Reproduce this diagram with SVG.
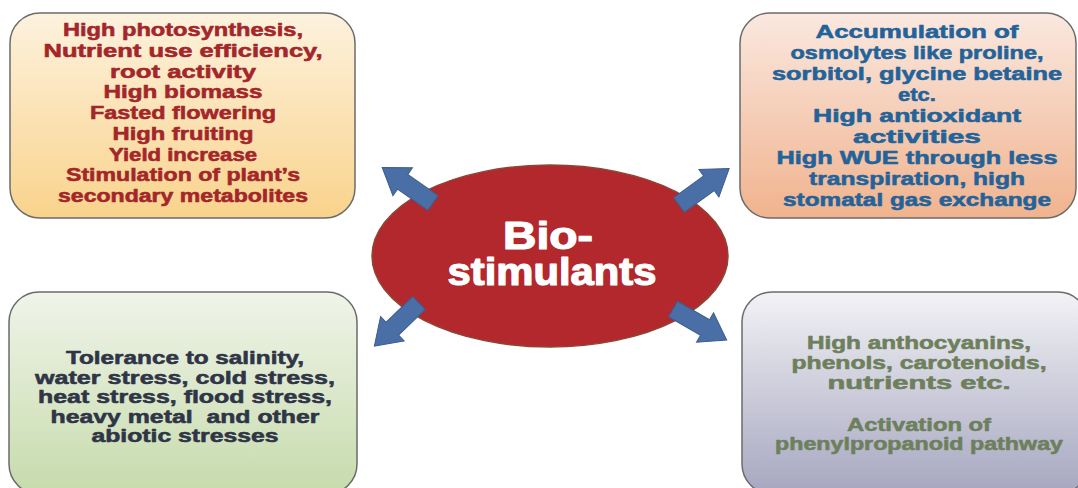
<svg xmlns="http://www.w3.org/2000/svg" width="1078" height="488" viewBox="0 0 1078 488">
  <defs>
    <linearGradient id="gOrange" x1="0" y1="0" x2="0" y2="1">
      <stop offset="0" stop-color="#fdf2de"/>
      <stop offset="1" stop-color="#f9d38c"/>
    </linearGradient>
    <linearGradient id="gPeach" x1="0" y1="0" x2="0" y2="1">
      <stop offset="0" stop-color="#fae8df"/>
      <stop offset="1" stop-color="#f0b38e"/>
    </linearGradient>
    <linearGradient id="gGreen" x1="0" y1="0" x2="0" y2="1">
      <stop offset="0" stop-color="#f0f4ea"/>
      <stop offset="1" stop-color="#c6dbab"/>
    </linearGradient>
    <linearGradient id="gLilac" x1="0" y1="0" x2="0" y2="1">
      <stop offset="0" stop-color="#f2f2f6"/>
      <stop offset="1" stop-color="#a6a6c0"/>
    </linearGradient>
    <!-- block arrow pointing along +x, tail at origin -->
    <polygon id="blockArrow" points="0,-9 37,-9 37,-17 62,0 37,17 37,9 0,9"/>
  </defs>
  <style>
    .box { stroke: #6b6b6b; stroke-width: 1.5; }
    .lbl { font-family: "Liberation Sans", Arial, sans-serif; font-weight: bold; font-size: 18px; text-anchor: middle; stroke-width: 0.55; stroke-linejoin: round; paint-order: stroke; }
    .red { fill: #a3262a; stroke: #a3262a; }
    .blue { fill: #23639a; stroke: #23639a; }
    .slate { fill: #2f3546; stroke: #2f3546; }
    .olive { fill: #6e7f5c; stroke: #6e7f5c; }
    .hub { fill: #b3282d; stroke: #8c4636; stroke-width: 1.5; }
    .hubtxt { font-family: "Liberation Sans", Arial, sans-serif; font-weight: bold; font-size: 38px; fill: #ffffff; stroke: #ffffff; stroke-width: 1.2; stroke-linejoin: round; text-anchor: middle; }
    .arrow { fill: #4a6ea6; stroke: #3d5d8e; stroke-width: 1; }
  </style>

  <rect width="1078" height="488" fill="#ffffff"/>

  <g id="growth">
    <rect class="box" x="10" y="13" width="345" height="205" rx="30" fill="url(#gOrange)"/>
    <text class="lbl red" x="183" y="36" textLength="240" lengthAdjust="spacingAndGlyphs">High photosynthesis,</text>
    <text class="lbl red" x="183" y="57" textLength="279" lengthAdjust="spacingAndGlyphs">Nutrient use efficiency,</text>
    <text class="lbl red" x="183" y="77.5" textLength="146" lengthAdjust="spacingAndGlyphs">root activity</text>
    <text class="lbl red" x="183" y="98.3" textLength="159" lengthAdjust="spacingAndGlyphs">High biomass</text>
    <text class="lbl red" x="183" y="119" textLength="186" lengthAdjust="spacingAndGlyphs">Fasted flowering</text>
    <text class="lbl red" x="183" y="139.8" textLength="141" lengthAdjust="spacingAndGlyphs">High fruiting</text>
    <text class="lbl red" x="183" y="160.5" textLength="148" lengthAdjust="spacingAndGlyphs">Yield increase</text>
    <text class="lbl red" x="183" y="181.3" textLength="234" lengthAdjust="spacingAndGlyphs">Stimulation of plant’s</text>
    <text class="lbl red" x="183" y="202" textLength="250" lengthAdjust="spacingAndGlyphs">secondary metabolites</text>
  </g>

  <g id="osmolytes">
    <rect class="box" x="740" y="13" width="336" height="205" rx="30" fill="url(#gPeach)"/>
    <text class="lbl blue" x="917" y="38" textLength="203" lengthAdjust="spacingAndGlyphs">Accumulation of</text>
    <text class="lbl blue" x="917" y="59" textLength="253" lengthAdjust="spacingAndGlyphs">osmolytes like proline,</text>
    <text class="lbl blue" x="917" y="80" textLength="290" lengthAdjust="spacingAndGlyphs">sorbitol, glycine betaine</text>
    <text class="lbl blue" x="917" y="101" textLength="38" lengthAdjust="spacingAndGlyphs">etc.</text>
    <text class="lbl blue" x="917" y="122" textLength="208" lengthAdjust="spacingAndGlyphs">High antioxidant</text>
    <text class="lbl blue" x="917" y="143" textLength="128" lengthAdjust="spacingAndGlyphs">activities</text>
    <text class="lbl blue" x="917" y="164" textLength="281" lengthAdjust="spacingAndGlyphs">High WUE through less</text>
    <text class="lbl blue" x="917" y="185" textLength="216" lengthAdjust="spacingAndGlyphs">transpiration, high</text>
    <text class="lbl blue" x="917" y="206" textLength="268" lengthAdjust="spacingAndGlyphs">stomatal gas exchange</text>
  </g>

  <g id="tolerance">
    <rect class="box" x="9" y="292" width="348" height="202" rx="30" fill="url(#gGreen)"/>
    <text class="lbl slate" x="185" y="364" textLength="238" lengthAdjust="spacingAndGlyphs">Tolerance to salinity,</text>
    <text class="lbl slate" x="185" y="384" textLength="300" lengthAdjust="spacingAndGlyphs">water stress, cold stress,</text>
    <text class="lbl slate" x="185" y="403" textLength="294" lengthAdjust="spacingAndGlyphs">heat stress, flood stress,</text>
    <text class="lbl slate" x="185" y="423" textLength="269" lengthAdjust="spacingAndGlyphs">heavy metal&#160; and other</text>
    <text class="lbl slate" x="185" y="442" textLength="187" lengthAdjust="spacingAndGlyphs">abiotic stresses</text>
  </g>

  <g id="quality">
    <rect class="box" x="742" y="292" width="346" height="202" rx="30" fill="url(#gLilac)"/>
    <text class="lbl olive" x="919" y="349" textLength="224" lengthAdjust="spacingAndGlyphs">High anthocyanins,</text>
    <text class="lbl olive" x="919" y="369" textLength="255" lengthAdjust="spacingAndGlyphs">phenols, carotenoids,</text>
    <text class="lbl olive" x="919" y="389" textLength="183" lengthAdjust="spacingAndGlyphs">nutrients etc.</text>
    <text class="lbl olive" x="919" y="431" textLength="144" lengthAdjust="spacingAndGlyphs">Activation of</text>
    <text class="lbl olive" x="919" y="450" textLength="288" lengthAdjust="spacingAndGlyphs">phenylpropanoid pathway</text>
  </g>

  <g id="biostimulants">
    <ellipse class="hub" cx="550" cy="256" rx="178" ry="91"/>
    <text class="hubtxt"><tspan x="548" y="249" textLength="90" lengthAdjust="spacingAndGlyphs">Bio-</tspan><tspan x="552" y="285" textLength="209" lengthAdjust="spacingAndGlyphs">stimulants</tspan></text>
  </g>

  <g id="connectors">
    <use href="#blockArrow" class="arrow" transform="translate(433,203) rotate(215)"/>
    <use href="#blockArrow" class="arrow" transform="translate(679,205) rotate(-36)"/>
    <use href="#blockArrow" class="arrow" transform="translate(419,303) rotate(136)"/>
    <use href="#blockArrow" class="arrow" transform="translate(673,309) rotate(30)"/>
  </g>
</svg>
